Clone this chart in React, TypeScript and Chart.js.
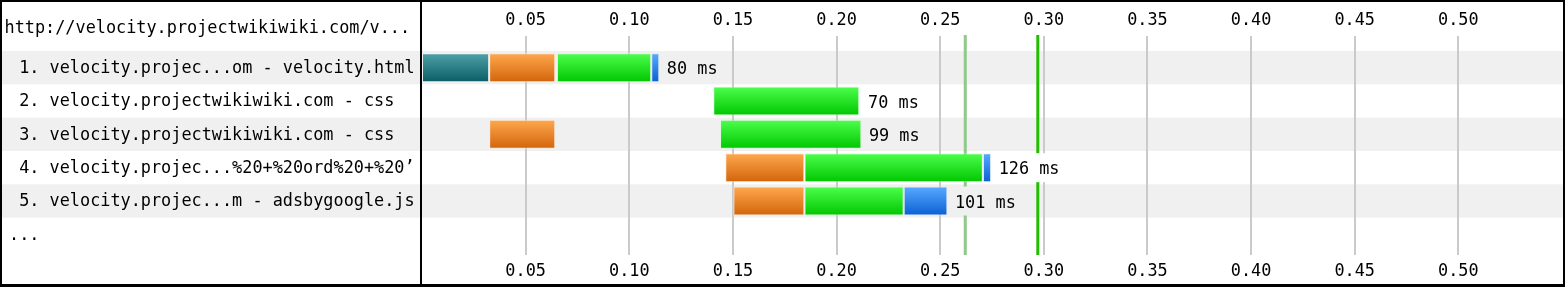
import React, { useEffect, useRef } from 'react';
import { Chart, registerables } from 'chart.js';

Chart.register(...registerables);

const pageUrl = 'http://velocity.projectwikiwiki.com/v...';
const rowLabels = [
  '1. velocity.projec...om - velocity.html',
  '2. velocity.projectwikiwiki.com - css',
  '3. velocity.projectwikiwiki.com - css',
  '4. velocity.projec...%20+%20ord%20+%20\u2019',
  '5. velocity.projec...m - adsbygoogle.js',
  '...',
];

// seconds [start, end]
const dnsTimes = [[0, 0.0324], null, null, null, null, null];
const connectTimes = [[0.0324, 0.0643], null, [0.0324, 0.0643], [0.1463, 0.1845], [0.1502, 0.1845], null];
const ttfbTimes = [[0.0651, 0.1106], [0.1405, 0.211], [0.1438, 0.212], [0.1845, 0.2706], [0.1845, 0.2324], null];
const downloadTimes = [[0.1106, 0.1145], [0.211, 0.2116], null, [0.2706, 0.2746], [0.2324, 0.2535], null];
const durationsMs = [80, 70, 99, 126, 101];
const markerTimes = [0.2621, 0.2971];
const markerColors = ['#8fc98b', '#22bd00'];
const axisMin = 0;
const axisMax = 0.55;
const axisStep = 0.05;

const FONT = 'DejaVu Sans Mono';
const FSIZE = 16.85;
const BAND = '#f0f0f0';
const GRID = '#cacaca';
const BAR_PCT = 0.87;

const grad = (top: string, bottom: string) => (c: any) => {
  const chart = c.chart;
  const ys = chart.scales && chart.scales.y;
  if (!ys || c.dataIndex == null || !chart.chartArea) return bottom;
  const yc = ys.getPixelForValue(c.dataIndex);
  const h = Math.abs(ys.getPixelForValue(1) - ys.getPixelForValue(0)) * BAR_PCT;
  const g = chart.ctx.createLinearGradient(0, yc - h / 2, 0, yc + h / 2);
  g.addColorStop(0, top);
  g.addColorStop(1, bottom);
  return g;
};

const allSeries = [dnsTimes, connectTimes, ttfbTimes, downloadTimes];

const waterfallPlugin = {
  id: 'waterfall',
  beforeDraw(chart: any) {
    const { ctx, width, height } = chart;
    const y = chart.scales.y;
    ctx.save();
    ctx.fillStyle = '#ffffff';
    ctx.fillRect(0, 0, width, height);
    const rowH = Math.abs(y.getPixelForValue(1) - y.getPixelForValue(0));
    rowLabels.forEach((_, i) => {
      if (i % 2 === 0) {
        ctx.fillStyle = BAND;
        ctx.fillRect(0, y.getPixelForValue(i) - rowH / 2, width, rowH);
      }
    });
    ctx.restore();
  },
  beforeDatasetsDraw(chart: any) {
    const { ctx, chartArea } = chart;
    const x = chart.scales.x;
    ctx.save();
    markerTimes.forEach((t, i) => {
      const px = x.getPixelForValue(t);
      ctx.fillStyle = markerColors[i];
      ctx.fillRect(px - 1.5, chartArea.top - 16, 3, chartArea.bottom - chartArea.top + 20);
    });
    ctx.restore();
  },
  afterDatasetsDraw(chart: any) {
    const { ctx } = chart;
    const x = chart.scales.x;
    const y = chart.scales.y;
    const rowH = Math.abs(y.getPixelForValue(1) - y.getPixelForValue(0));
    const barH = rowH * BAR_PCT;
    ctx.save();
    ctx.font = `${FSIZE}px "${FONT}"`;
    ctx.textBaseline = 'alphabetic';
    durationsMs.forEach((ms, i) => {
      let end = -Infinity;
      allSeries.forEach((s) => {
        const v = s[i];
        if (v) end = Math.max(end, v[1]);
      });
      if (!isFinite(end)) return;
      const px = x.getPixelForValue(end);
      const yc = y.getPixelForValue(i);
      const txt = `${ms} ms`;
      const w = ctx.measureText(txt).width;
      ctx.fillStyle = i % 2 === 0 ? BAND : '#ffffff';
      ctx.fillRect(px + 1, yc - barH / 2, w + 12, barH);
      ctx.fillStyle = '#000000';
      ctx.fillText(txt, px + 7.5, yc + 6.8);
    });
    ctx.restore();
  },
  afterDraw(chart: any) {
    const { ctx, width, height, chartArea } = chart;
    ctx.save();
    ctx.font = `${FSIZE}px "${FONT}"`;
    ctx.fillStyle = '#000000';
    ctx.textBaseline = 'alphabetic';
    ctx.fillText(pageUrl, 4.5, 33.3);
    ctx.fillStyle = '#000000';
    ctx.fillRect(0, 0, width, 2);
    ctx.fillRect(0, 0, 2, height);
    ctx.fillRect(width - 2, 0, 2, height);
    ctx.fillRect(0, height - 3, width, 3);
    ctx.fillRect(chartArea.left - 2, 0, 2, height);
    ctx.restore();
  },
};

const keepTicks = (scale: any) => {
  scale.ticks = scale.ticks.filter((t: any) => t.value > 0.001 && t.value < 0.5001);
};

export default function App() {
  const ref = useRef<HTMLCanvasElement>(null);
  useEffect(() => {
    document.body.style.margin = '0';
    const canvas = ref.current!;
    const chart = new Chart(canvas, {
      type: 'bar',
      data: {
        labels: rowLabels,
        datasets: [
          { label: 'DNS', data: dnsTimes as any, backgroundColor: grad('#4ea2a8', '#0a5c66'), borderColor: 'rgba(255,255,255,0.25)', borderWidth: 1, borderSkipped: false, grouped: false } as any,
          { label: 'Connect', data: connectTimes as any, backgroundColor: grad('#ffa84e', '#d2640a'), borderColor: 'rgba(255,230,200,0.6)', borderWidth: 1, borderSkipped: false, grouped: false } as any,
          { label: 'TTFB', data: ttfbTimes as any, backgroundColor: grad('#4dff4d', '#00c600'), borderColor: 'rgba(200,255,200,0.5)', borderWidth: 1, borderSkipped: false, grouped: false } as any,
          { label: 'Download', data: downloadTimes as any, backgroundColor: grad('#58aaff', '#0a60d4'), borderColor: 'rgba(200,225,255,0.4)', borderWidth: 1, borderSkipped: false, grouped: false } as any,
        ],
      },
      options: {
        indexAxis: 'y',
        responsive: false,
        maintainAspectRatio: false,
        animation: false,
        events: [],
        layout: { padding: { left: 9, right: 3, top: 0, bottom: 0 } },
        datasets: { bar: { categoryPercentage: 1, barPercentage: BAR_PCT } },
        plugins: { legend: { display: false }, tooltip: { enabled: false }, title: { display: false } },
        scales: {
          x: {
            type: 'linear',
            position: 'top',
            min: axisMin,
            max: axisMax,
            afterBuildTicks: keepTicks,
            afterFit: (s: any) => { s.height = 51; },
            grid: { color: GRID, lineWidth: 2, tickLength: 15, drawOnChartArea: true },
            border: { display: false },
            ticks: {
              stepSize: axisStep,
              padding: 5,
              color: '#000',
              font: { family: FONT, size: FSIZE },
              maxRotation: 0,
              autoSkip: false,
              callback: (v: any) => Number(v).toFixed(2),
            },
          },
          x2: {
            type: 'linear',
            position: 'bottom',
            min: axisMin,
            max: axisMax,
            afterBuildTicks: keepTicks,
            afterFit: (s: any) => { s.height = 36; },
            grid: { color: GRID, lineWidth: 2, tickLength: 4, drawOnChartArea: false },
            border: { display: false },
            ticks: {
              stepSize: axisStep,
              padding: 7,
              color: '#000',
              font: { family: FONT, size: FSIZE },
              maxRotation: 0,
              autoSkip: false,
              callback: (v: any) => Number(v).toFixed(2),
            },
          },
          y: {
            type: 'category',
            position: 'left',
            afterFit: (s: any) => { s.width = 413; },
            grid: { display: false },
            border: { display: false },
            ticks: {
              crossAlign: 'far',
              labelOffset: 1,
              color: '#000',
              autoSkip: false,
              font: { family: FONT, size: FSIZE },
              callback: (_v: any, i: number) => (rowLabels[i] === '...' ? rowLabels[i] : ' ' + rowLabels[i]),
            },
          },
        },
      } as any,
      plugins: [waterfallPlugin],
    });
    return () => chart.destroy();
  }, []);
  return (
    <div style={{ width: 1565, height: 287 }}>
      <canvas ref={ref} width={1565} height={287} style={{ display: 'block' }} />
    </div>
  );
}
